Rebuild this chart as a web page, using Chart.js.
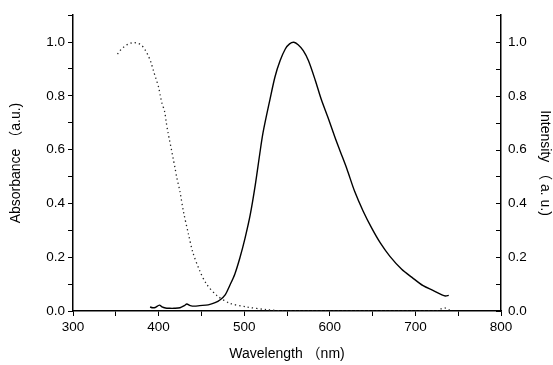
<!DOCTYPE html>
<html>
<head>
<meta charset="utf-8">
<script src="https://cdn.jsdelivr.net/npm/chart.js@4"></script>
<style>
  html, body { margin: 0; padding: 0; background: #fff; }
  #wrap { width: 553px; height: 365px; }
</style>
</head>
<body>
<div id="wrap"><canvas id="specChart"></canvas></div>
<script>
// absorbance (dotted) and emission (solid)
const absWavelength = [352, 356, 360, 365, 370, 375, 380, 384, 387, 391, 394, 397, 400, 402, 404, 407, 409, 411, 413, 415, 417, 419, 421, 425, 429, 435, 440, 448, 456, 468, 483, 503, 526, 550, 600, 650, 700, 725, 730, 735, 740];
const absorbance    = [0.955, 0.972, 0.983, 0.993, 0.998, 0.996, 0.988, 0.972, 0.955, 0.925, 0.893, 0.863, 0.832, 0.80, 0.772, 0.742, 0.70, 0.663, 0.631, 0.60, 0.567, 0.535, 0.50, 0.443, 0.37, 0.284, 0.218, 0.15, 0.10, 0.058, 0.029, 0.015, 0.005, 0.0, 0.0, 0.0, 0.0, 0.0, 0.008, 0.011, 0.004];

const emWavelength = [390, 393, 396, 401, 404, 408, 413, 418, 425, 430, 433, 437, 442, 448, 458, 466, 472, 478, 483, 489, 495, 501, 507, 513, 518, 522, 530, 536, 542, 548, 553, 558, 563, 569, 575, 583, 590, 598, 606, 612, 620, 629, 639, 649, 659, 670, 684, 696, 709, 721, 731, 735, 739];
const intensity    = [0.015, 0.012, 0.013, 0.022, 0.015, 0.011, 0.01, 0.01, 0.012, 0.02, 0.026, 0.02, 0.018, 0.02, 0.023, 0.031, 0.042, 0.061, 0.094, 0.137, 0.198, 0.271, 0.357, 0.47, 0.58, 0.663, 0.785, 0.871, 0.931, 0.974, 0.993, 0.999, 0.99, 0.968, 0.931, 0.858, 0.787, 0.718, 0.646, 0.595, 0.528, 0.445, 0.371, 0.308, 0.253, 0.204, 0.155, 0.125, 0.094, 0.076, 0.06, 0.056, 0.058];

const xMin = 300, xMax = 800, yMin = 0, yMax = 1.1;

const fontFamily = "'Liberation Sans', Arial, 'Noto Sans CJK SC', sans-serif";
const tickFont = { family: fontFamily, size: 13.5 };
const titleFont = { family: fontFamily, size: 14 };

const yLabel = v => {
    const t = Math.round(v * 10);
    return t % 2 === 0 ? (t / 10).toFixed(1) : '';
};

// right axis ticks point into the plot
const innerTicks = {
    id: 'innerTicks',
    afterDatasetsDraw(chart) {
        const s = chart.scales.y1, ctx = chart.ctx;
        ctx.save();
        ctx.strokeStyle = '#000';
        ctx.lineWidth = 1;
        s.ticks.forEach(t => {
            const y = Math.round(s.getPixelForValue(t.value)) + 0.5;
            ctx.beginPath();
            ctx.moveTo(s.left, y);
            ctx.lineTo(s.left - 5, y);
            ctx.stroke();
        });
        ctx.restore();
    }
};

const ctx = document.getElementById('specChart').getContext('2d');
new Chart(ctx, {
    type: 'line',
    data: {
        datasets: [
            {
                label: 'Absorbance',
                data: absWavelength.map((x, i) => ({ x, y: absorbance[i] })),
                borderColor: '#222',
                borderWidth: 1.3,
                borderDash: [1.3, 3],
                pointRadius: 0,
                tension: 0.3,
                yAxisID: 'y'
            },
            {
                label: 'Intensity',
                data: emWavelength.map((x, i) => ({ x, y: intensity[i] })),
                borderColor: '#000',
                borderWidth: 1.4,
                pointRadius: 0,
                tension: 0.3,
                yAxisID: 'y1'
            }
        ]
    },
    options: {
        responsive: true,
        maintainAspectRatio: false,
        animation: false,
        layout: { padding: { top: 11, left: 0, right: 0, bottom: 0 } },
        plugins: {
            legend: { display: false },
            tooltip: { enabled: false }
        },
        scales: {
            x: {
                type: 'linear',
                min: xMin, max: xMax,
                afterFit: s => { s.height = 54; },
                border: { color: '#000', width: 1.5 },
                grid: { drawOnChartArea: false, drawTicks: true, tickLength: 5, color: '#000' },
                ticks: {
                    stepSize: 50, autoSkip: false, maxRotation: 0, padding: 3,
                    color: '#000', font: tickFont,
                    callback: v => (v % 100 === 0 ? v : '')
                },
                title: { display: true, text: 'Wavelength （nm)', color: '#000', font: titleFont, padding: { top: 0, bottom: 2 } }
            },
            y: {
                position: 'left',
                min: yMin, max: yMax,
                afterFit: s => { s.width = 73; },
                border: { color: '#000', width: 1.5 },
                grid: { drawOnChartArea: false, drawTicks: true, tickLength: 5, color: '#000' },
                ticks: { stepSize: 0.1, autoSkip: false, padding: 3, color: '#000', font: tickFont, callback: yLabel },
                title: { display: true, text: 'Absorbance （a.u.)', color: '#000', font: titleFont, padding: { top: 8, bottom: 0 } }
            },
            y1: {
                position: 'right',
                min: yMin, max: yMax,
                afterFit: s => { s.width = 52; },
                border: { color: '#000', width: 1.5 },
                grid: { drawOnChartArea: false, drawTicks: false, tickLength: 0 },
                ticks: { stepSize: 0.1, autoSkip: false, padding: 7, color: '#000', font: tickFont, callback: yLabel },
                title: { display: true, text: 'Intensity （ a. u.)', color: '#000', font: titleFont, padding: { top: 0, bottom: 0 } }
            }
        }
    },
    plugins: [innerTicks]
});
</script>
</body>
</html>
